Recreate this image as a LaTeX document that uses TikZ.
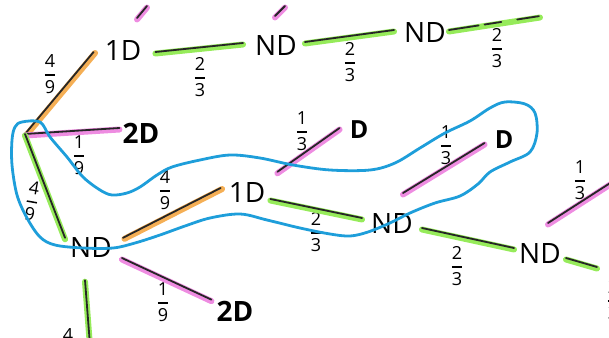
\documentclass[tikz,border=0pt]{standalone}
\usepackage{amsmath}
\usepackage{fontspec}
\setmainfont{Open Sans}
\usetikzlibrary{calc}
\definecolor{hlgreen}{RGB}{150,235,90}
\definecolor{hlorange}{RGB}{245,175,85}
\definecolor{hlpink}{RGB}{238,140,225}
\definecolor{loopblue}{RGB}{30,158,218}
\newcommand\myfr[2]{$\genfrac{}{}{1.5pt}{0}{\mbox{#1}}{\mbox{#2}}$}
\tikzset{
  lbl/.style={inner sep=0pt, font=\fontsize{28}{30}\selectfont},
  lblb/.style={inner sep=0pt, font=\fontsize{28}{30}\selectfont\bfseries},
  lbld/.style={inner sep=0pt, font=\fontsize{25}{27}\selectfont\bfseries},
  frc/.style={inner sep=0pt, font=\fontsize{18}{20}\selectfont},
  ink/.style={line cap=round, draw=black!85, line width=1.8pt},
  eg/.style={ink, preaction={draw=hlgreen, line width=6pt, line cap=round, transform canvas={yshift=-1.5pt}}},
  eo/.style={ink, preaction={draw=hlorange, line width=6pt, line cap=round, transform canvas={xshift=1.5pt,yshift=-1pt}}},
  ep/.style={ink, preaction={draw=hlpink, line width=6pt, line cap=round, transform canvas={yshift=-1.5pt}}},
  loopline/.style={draw=loopblue, line width=2.8pt, line join=round}
}
\begin{document}
\begin{tikzpicture}[x=1pt,y=-1pt]
\useasboundingbox (0,0) rectangle (609,337);
\clip (0,0) rectangle (609,337);
% nodes
\node[lbl]  (n1Da) at (123,51) {1D};
\node[lbl]  (nNDa) at (276,46) {ND};
\node[lbl]  (nNDb) at (425,33) {ND};
\node[lblb] (n2Da) at (141,133) {2D};
\node[lbl]  (nNDc) at (91,248) {ND};
\node[lbl]  (n1Db) at (247,193) {1D};
\node[lblb] (n2Db) at (235,311) {2D};
\node[lbld] (nDa)  at (359,130) {D};
\node[lbl]  (nNDd) at (392,224) {ND};
\node[lbl]  (nNDe) at (540,254) {ND};
\node[lbld] (nDb)  at (504,140) {D};
% free ends
\coordinate (root) at (25,134);
\coordinate (ta1) at (137,18);  \coordinate (ta2) at (147,6);
\coordinate (tb1) at (275,16);  \coordinate (tb2) at (285,6);
\coordinate (dashend) at (540,16);
\coordinate (bot) at (90,345);
\coordinate (pk1) at (403,193);
\coordinate (pk2) at (548,223); \coordinate (pk3) at (618,178);
\coordinate (gr2) at (597,267);
% fractions
\node[frc] (f1) at (50,74) {\myfr{4}{9}};
\node[frc] (f2) at (200,77) {\myfr{2}{3}};
\node[frc] (f3) at (350,62) {\myfr{2}{3}};
\node[frc] (f4) at (497,48) {\myfr{2}{3}};
\node[frc] (f5) at (79,155) {\myfr{1}{9}};
\node[frc,rotate=-10] (f6) at (32,201) {\myfr{4}{9}};
\node[frc] (f7) at (165,190) {\myfr{4}{9}};
\node[frc] (f8) at (163,302) {\myfr{1}{9}};
\node[frc] (f9) at (302,131) {\myfr{1}{3}};
\node[frc] (f10) at (316,232) {\myfr{2}{3}};
\node[frc] (f11) at (457,266) {\myfr{2}{3}};
\node[frc] (f12) at (446,145) {\myfr{1}{3}};
\node[frc] (f13) at (580,180) {\myfr{1}{3}};
\node[frc] (f14) at (613,300) {\myfr{2}{3}};
\node[frc] (f15) at (68,348) {\myfr{4}{9}};
% connectors
\draw[ep] (ta1) -- (ta2);
\draw[ep] (tb1) -- (tb2);
\draw[eo] (root) -- ([shift={(-11,1)}]n1Da.west);
\draw[eg] ([shift={(14,1)}]n1Da.east) -- ([shift={(-12,-3)}]nNDa.west);
\draw[eg] ([shift={(8,-4)}]nNDa.east) -- ([shift={(-10,-3)}]nNDb.west);
\draw[eg, dash pattern=on 30pt off 6pt on 17pt off 16pt on 22pt off 20pt] ([shift={(3,-3)}]nNDb.east) -- (dashend);
\draw[ep] (root) -- ([shift={(-3,-5)}]n2Da.west);
\draw[eg] (root) -- ([shift={(-5,0)}]nNDc.north west);
\draw[eo] ([shift={(11,0)}]nNDc.north east) -- ([shift={(-8,-5)}]n1Db.west);
\draw[ep] ([shift={(10,10)}]nNDc.east) -- ([shift={(-5,-1)}]n2Db.north west);
\draw[eg] ([shift={(-6,22)}]nNDc.south) -- (bot);
\draw[ep] ([shift={(12,-11)}]n1Db.north east) -- ([shift={(-10,-2)}]nDa.west);
\draw[eg] ([shift={(5,6)}]n1Db.east) -- ([shift={(-9,-6)}]nNDd.west);
\draw[eg] ([shift={(9,4)}]nNDd.east) -- ([shift={(-5,-6)}]nNDe.west);
\draw[eg] ([shift={(5,4)}]nNDe.east) -- (gr2);
\draw[ep] (pk1) -- ([shift={(-10,3)}]nDb.west);
\draw[ep] (pk2) -- (pk3);
% blue loop
\draw[loopline] plot[smooth cycle, tension=0.55] coordinates {
(22,122) (40,122) (50,137) (67,157) (83,177) (100,190) (112,195) (127,193)
(140,187) (157,175) (172,167) (200,160) (230,155) (260,158) (293,165)
(330,170) (370,170) (395,163) (420,148) (445,133) (470,121) (490,108)
(505,102) (525,104) (535,113) (537,133) (530,152) (510,162) (490,172)
(478,184) (460,196) (435,203) (410,213) (390,223) (368,232) (350,236)
(330,234) (300,228) (267,220) (240,214) (210,218) (185,226) (160,235)
(135,243) (113,248) (83,248) (55,245) (40,237) (27,218) (17,195)
(12,165) (12,140) (15,127)};
\end{tikzpicture}
\end{document}
